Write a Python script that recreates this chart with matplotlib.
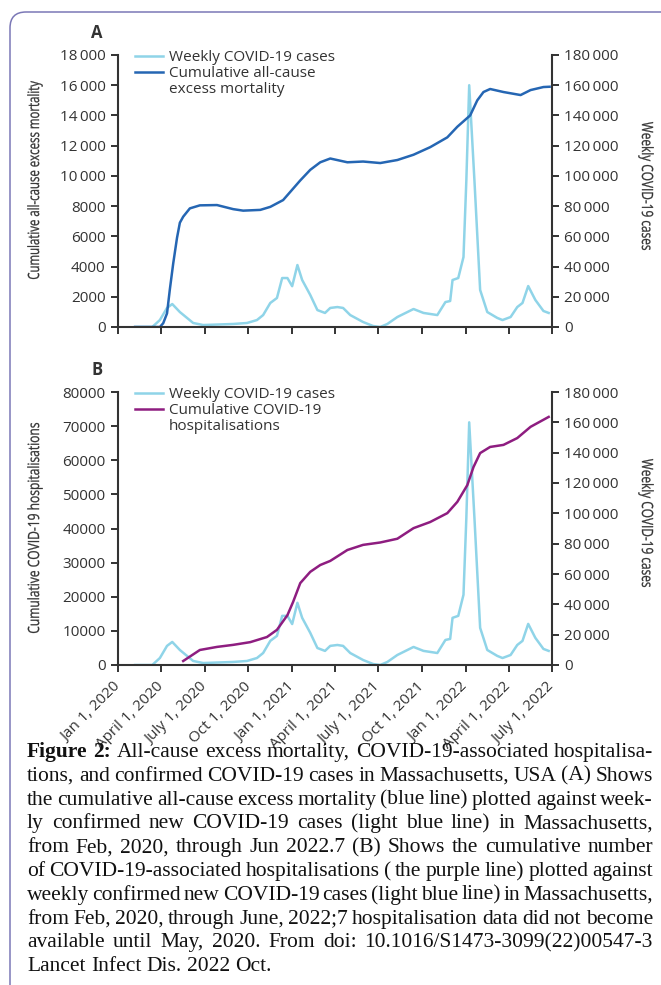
import matplotlib
matplotlib.use('Agg')
import matplotlib.pyplot as plt
from matplotlib.lines import Line2D
from matplotlib.patches import FancyBboxPatch, PathPatch
from matplotlib.transforms import IdentityTransform, Affine2D
from matplotlib.textpath import TextPath
from matplotlib.font_manager import FontProperties
import pandas as pd

# weekly confirmed COVID-19 cases (right axis, both panels)
case_dates = ['2020-02-06', '2020-03-13', '2020-03-29', '2020-04-13', '2020-04-24', '2020-05-10',
              '2020-06-07', '2020-06-28', '2020-08-30', '2020-09-28', '2020-10-19', '2020-11-01',
              '2020-11-16', '2020-11-30', '2020-12-11', '2020-12-22', '2021-01-01', '2021-01-12',
              '2021-01-22', '2021-02-08', '2021-02-23', '2021-03-11', '2021-03-22', '2021-04-06',
              '2021-04-18', '2021-05-03', '2021-05-30', '2021-06-20', '2021-07-05', '2021-07-20',
              '2021-08-10', '2021-09-13', '2021-10-04', '2021-11-02', '2021-11-19', '2021-11-29',
              '2021-12-04', '2021-12-16', '2021-12-27', '2022-01-02', '2022-01-08', '2022-01-19',
              '2022-01-31', '2022-02-15', '2022-03-08', '2022-03-19', '2022-04-05', '2022-04-19',
              '2022-04-30', '2022-05-12', '2022-05-27', '2022-06-13', '2022-06-24']
case_vals = [0, 0, 4600, 12600, 15200, 9900,
             2650, 1300, 2000, 2650, 4600, 7900,
             15900, 19200, 32400, 32400, 27000, 41000,
             31100, 21200, 11200, 9300, 12600, 13200,
             12600, 7900, 3300, 660, 0, 2000,
             6600, 11900, 9300, 7900, 16500, 17200,
             31100, 32400, 46300, 97000, 160000, 97000,
             24500, 9900, 6000, 4600, 6600, 13200,
             15900, 27100, 17900, 10600, 9300]

# cumulative all-cause excess mortality (panel A, left axis)
mort_dates = ['2020-02-06', '2020-03-29', '2020-04-05', '2020-04-13', '2020-04-19', '2020-04-26',
              '2020-05-04', '2020-05-10', '2020-05-17', '2020-05-31', '2020-06-21', '2020-07-27',
              '2020-08-30', '2020-09-20', '2020-10-26', '2020-11-16', '2020-12-13', '2021-01-18',
              '2021-02-08', '2021-03-01', '2021-03-22', '2021-04-27', '2021-05-30', '2021-07-05',
              '2021-08-10', '2021-09-13', '2021-10-18', '2021-11-23', '2021-12-14', '2022-01-10',
              '2022-01-25', '2022-02-07', '2022-02-21', '2022-03-21', '2022-04-26', '2022-05-17',
              '2022-06-13', '2022-06-26']
mort_vals = [0, 0, 250, 900, 2500, 4200,
             5900, 6900, 7300, 7850, 8050, 8070,
             7800, 7700, 7750, 7950, 8400, 9700,
             10400, 10900, 11150, 10900, 10950, 10850,
             11050, 11400, 11900, 12550, 13250, 14000,
             15000, 15550, 15750, 15550, 15350, 15680,
             15880, 15900]

# cumulative COVID-19 hospitalisations (panel B, left axis)
hosp_dates = ['2020-05-17', '2020-06-21', '2020-07-27', '2020-08-30', '2020-10-05', '2020-11-09',
              '2020-11-30', '2020-12-22', '2021-01-03', '2021-01-18', '2021-02-08', '2021-03-01',
              '2021-03-22', '2021-04-27', '2021-05-30', '2021-07-05', '2021-08-10', '2021-09-13',
              '2021-10-18', '2021-11-23', '2021-12-14', '2022-01-04', '2022-01-17', '2022-01-31',
              '2022-02-21', '2022-03-21', '2022-04-19', '2022-05-17', '2022-06-24']
hosp_vals = [1170, 4400, 5300, 5900, 6700, 8200,
             10300, 14600, 18500, 24000, 27300, 29300,
             30500, 33700, 35200, 35900, 37000, 40100,
             41900, 44500, 47800, 52700, 58000, 62100,
             63900, 64500, 66500, 69800, 72700]

tick_dates = ['2020-01-01', '2020-04-01', '2020-07-01', '2020-10-01', '2021-01-01', '2021-04-01',
              '2021-07-01', '2021-10-01', '2022-01-01', '2022-04-01', '2022-07-01']
tick_labels = ['Jan 1, 2020', 'April 1, 2020', 'July 1, 2020', 'Oct 1, 2020', 'Jan 1, 2021',
               'April 1, 2021', 'July 1, 2021', 'Oct 1, 2021', 'Jan 1, 2022', 'April 1, 2022',
               'July 1, 2022']

caption = [
    "Figure 2: All-cause excess mortality, COVID-19-associated hospitalisa-",
    "tions, and confirmed COVID-19 cases in Massachusetts, USA (A) Shows",
    "the cumulative all-cause excess mortality (blue line) plotted against week-",
    "ly confirmed new COVID-19 cases (light blue line) in Massachusetts,",
    "from Feb, 2020, through Jun 2022.7 (B) Shows the cumulative number",
    "of COVID-19-associated hospitalisations ( the purple line) plotted against",
    "weekly confirmed new COVID-19 cases (light blue line) in Massachusetts,",
    "from Feb, 2020, through June, 2022;7 hospitalisation data did not become",
    "available until May, 2020. From doi: 10.1016/S1473-3099(22)00547-3",
    "Lancet Infect Dis. 2022 Oct.",
]

LIGHT = '#8fd4e8'
DARK = '#2566b3'
PURPLE = '#8e1d80'
INK = '#333333'

plt.rcParams['font.family'] = ['Open Sans', 'DejaVu Sans']
plt.rcParams['font.size'] = 11

W, H = 661, 985
fig = plt.figure(figsize=(W / 100, H / 100), dpi=100)


def thin(v):
    s = '%d' % v
    if len(s) > 4:
        s = s[:-3] + '\u2009' + s[-3:]
    return s


def setup_panel(ax, ax2, left_max, left_step, left_thin, show_labels):
    x0, x1 = pd.Timestamp('2020-01-01'), pd.Timestamp('2022-07-01')
    ax.set_xlim(x0, x1)
    ax.set_xticks(pd.to_datetime(tick_dates))
    if show_labels:
        ax.set_xticklabels(tick_labels, rotation=45, ha='right', va='center',
                           rotation_mode='anchor', color=INK, fontsize=11)
    else:
        ax.set_xticklabels([])
    lt = list(range(0, left_max + 1, left_step))
    ax.set_ylim(0, left_max)
    ax.set_yticks(lt)
    ax.set_yticklabels([thin(v) if left_thin else str(v) for v in lt], color=INK)
    rt = list(range(0, 180001, 20000))
    ax2.set_ylim(0, 180000)
    ax2.set_yticks(rt)
    ax2.set_yticklabels([thin(v) for v in rt], color=INK)
    for s in ['top', 'right']:
        ax.spines[s].set_visible(False)
    for s in ['top', 'left', 'bottom']:
        ax2.spines[s].set_visible(False)
    for a in (ax, ax2):
        for s in a.spines.values():
            s.set_linewidth(1.5)
            s.set_color(INK)
        a.tick_params(direction='out', length=5, width=1.4, color=INK, pad=4)
    ax.tick_params(axis='x', pad=9)
    ax.set_zorder(ax2.get_zorder() + 1)
    ax.patch.set_visible(False)


# panel A
axA = fig.add_axes([118 / W, 1 - 327 / H, 434 / W, 272 / H])
axA2 = axA.twinx()
axA2.plot(pd.to_datetime(case_dates), case_vals, color=LIGHT, lw=1.8)
axA.plot(pd.to_datetime(mort_dates), mort_vals, color=DARK, lw=1.8)
setup_panel(axA, axA2, 18000, 2000, True, False)

# panel B
axB = fig.add_axes([118 / W, 1 - 665 / H, 434 / W, 273 / H])
axB2 = axB.twinx()
axB2.plot(pd.to_datetime(case_dates), case_vals, color=LIGHT, lw=1.8)
axB.plot(pd.to_datetime(hosp_dates), hosp_vals, color=PURPLE, lw=1.8)
setup_panel(axB, axB2, 80000, 10000, False, True)

for ax, col, labs in [(axA, DARK, ['Weekly COVID-19 cases', 'Cumulative all-cause', 'excess mortality']),
                      (axB, PURPLE, ['Weekly COVID-19 cases', 'Cumulative COVID-19', 'hospitalisations'])]:
    hs = [Line2D([], [], color=LIGHT, lw=1.8), Line2D([], [], color=col, lw=1.8),
          Line2D([], [], color='none')]
    ax.legend(hs, labs, loc='upper left', bbox_to_anchor=(17 / 434, 1.018), frameon=False,
              borderpad=0, borderaxespad=0, handlelength=1.85, handletextpad=0.35,
              labelspacing=0.05, labelcolor=INK)

fig.text(97 / W, 1 - 33 / H, 'A', fontsize=12, fontweight='bold', ha='center', va='center', color=INK)
fig.text(97 / W, 1 - 370 / H, 'B', fontsize=12, fontweight='bold', ha='center', va='center', color=INK)


# axis titles in the condensed look of the original: text path squeezed along its length
def narrow_label(text, cx, cy, angle, length):
    tp = TextPath((0, 0), text, size=15.5, prop=FontProperties(family='Open Sans'))
    bb = tp.get_extents()
    sq = length / bb.width
    tr = (Affine2D().translate(-(bb.x0 + bb.x1) / 2, -(bb.y0 + bb.y1) / 2)
          .scale(sq, 1).rotate_deg(angle).translate(cx, H - cy))
    fig.add_artist(PathPatch(tr.transform_path(tp), facecolor=INK, edgecolor=INK, lw=0.2,
                             transform=IdentityTransform()))


narrow_label('Cumulative all-cause excess mortality', 35, 180, 90, 198)
narrow_label('Weekly COVID-19 cases', 646, 186, 270, 128)
narrow_label('Cumulative COVID-19 hospitalisations', 35, 528, 90, 210)
narrow_label('Weekly COVID-19 cases', 646, 523, 270, 128)

# frame around the figure (cut off at right and bottom)
frame = FancyBboxPatch((10, -30), 720, 1003, boxstyle='round,pad=0,rounding_size=16',
                       transform=IdentityTransform(), fill=False, edgecolor='#7b78b6', lw=1.1)
fig.add_artist(frame)

# justified caption
renderer = fig.canvas.get_renderer()
SERIF = ['Liberation Serif', 'DejaVu Serif']


def wwidth(w, size, weight='normal'):
    t = fig.text(0, 0, w, fontsize=size, family=SERIF, fontweight=weight)
    wd = t.get_window_extent(renderer).width
    t.remove()
    return wd


cx0, cx1 = 27, 653
ref_words = caption[0].split(' ')
sp10 = wwidth('a a', 10) - wwidth('aa', 10)
nat = sum(wwidth(w, 10, 'bold' if j < 2 else 'normal') for j, w in enumerate(ref_words)) \
    + (len(ref_words) - 1) * sp10
csize = 10 * (cx1 - cx0) / nat

for i, line in enumerate(caption):
    words = line.split(' ')
    weights = ['bold' if (i == 0 and j < 2) else 'normal' for j in range(len(words))]
    widths = [wwidth(w, csize, wt) for w, wt in zip(words, weights)]
    if i < len(caption) - 1:
        gap = (cx1 - cx0 - sum(widths)) / (len(words) - 1)
    else:
        gap = wwidth('a a', csize) - wwidth('aa', csize)
    x = cx0
    base = 757 + 23.8 * i
    for w, wt, wd in zip(words, weights, widths):
        fig.text(x / W, 1 - base / H, w, fontsize=csize, family=SERIF, fontweight=wt,
                 va='baseline', ha='left', color='#111111')
        x += wd + gap

fig.savefig('out.png', dpi=100)
